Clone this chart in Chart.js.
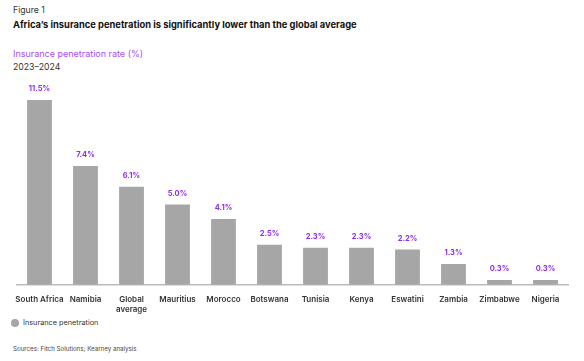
<!DOCTYPE html>
<html>
<head>
<meta charset="utf-8">
<script src="https://cdn.jsdelivr.net/npm/chart.js@4.4.0/dist/chart.umd.min.js"></script>
<style>
  body { margin: 0; width: 584px; height: 361px; background: #fff; font-family: Inter, "Noto Sans", sans-serif; position: relative; overflow: hidden; }
  .fig { position: absolute; left: 13px; top: 5px; font-size: 8.7px; color: #333; }
  .title { position: absolute; left: 13px; top: 19px; font-size: 9.35px; font-weight: 700; color: #111; }
  .sub { position: absolute; left: 13px; top: 48px; font-size: 9px; color: #a64dff; }
  .years { position: absolute; left: 13px; top: 62px; font-size: 8.7px; color: #333; }
  .legend { position: absolute; left: 11px; top: 318px; font-size: 7.3px; color: #333; display: flex; align-items: center; }
  .legend i { display: inline-block; width: 8px; height: 8px; border-radius: 50%; background: #a6a6a6; margin-right: 4px; }
  .src { position: absolute; left: 13px; top: 345px; font-size: 6.2px; color: #444; }
  #wrap { position: absolute; left: 0; top: 76px; width: 584px; height: 240px; }
</style>
</head>
<body>
<div class="fig">Figure 1</div>
<div class="title">Africa’s insurance penetration is significantly lower than the global average</div>
<div class="sub">Insurance penetration rate (%)</div>
<div class="years">2023–2024</div>
<div id="wrap"><canvas id="chart"></canvas></div>
<div class="legend"><i></i>Insurance penetration</div>
<div class="src">Sources: Fitch Solutions; Kearney analysis</div>
<script>
const categories = ["South Africa", "Namibia", ["Global", "average"], "Mauritius", "Morocco", "Botswana", "Tunisia", "Kenya", "Eswatini", "Zambia", "Zimbabwe", "Nigeria"];
const penetration = [11.5, 7.4, 6.1, 5.0, 4.1, 2.5, 2.3, 2.3, 2.2, 1.3, 0.3, 0.3];

// value labels above each bar
const valueLabels = {
  id: "valueLabels",
  afterDatasetsDraw(chart) {
    const ctx = chart.ctx;
    const meta = chart.getDatasetMeta(0);
    ctx.save();
    ctx.fillStyle = "#8f2bf0";
    ctx.font = "700 7.5px Inter, sans-serif";
    ctx.textAlign = "center";
    ctx.textBaseline = "middle";
    meta.data.forEach((bar, i) => {
      ctx.fillText(penetration[i].toFixed(1) + "%", bar.x, bar.y - 11);
    });
    ctx.restore();
  }
};

new Chart(document.getElementById("chart"), {
  type: "bar",
  data: {
    labels: categories,
    datasets: [{
      label: "Insurance penetration",
      data: penetration,
      backgroundColor: "#a6a6a6",
      borderWidth: 0,
      categoryPercentage: 0.54,
      barPercentage: 1
    }]
  },
  plugins: [valueLabels],
  options: {
    responsive: true,
    maintainAspectRatio: false,
    animation: false,
    layout: { padding: { left: 16.5, right: 15.5, top: 0, bottom: 0 } },
    plugins: {
      tooltip: { enabled: false },
      legend: { display: false }
    },
    scales: {
      x: {
        grid: { display: false },
        border: { color: "#bbb", width: 1.5 },
        ticks: {
          color: "#333",
          font: { family: "Inter", size: 8, weight: "600" },
          maxRotation: 0,
          autoSkip: false,
          padding: 2
        }
      },
      y: { display: false, min: 0, max: 13 }
    }
  }
});
</script>
</body>
</html>
